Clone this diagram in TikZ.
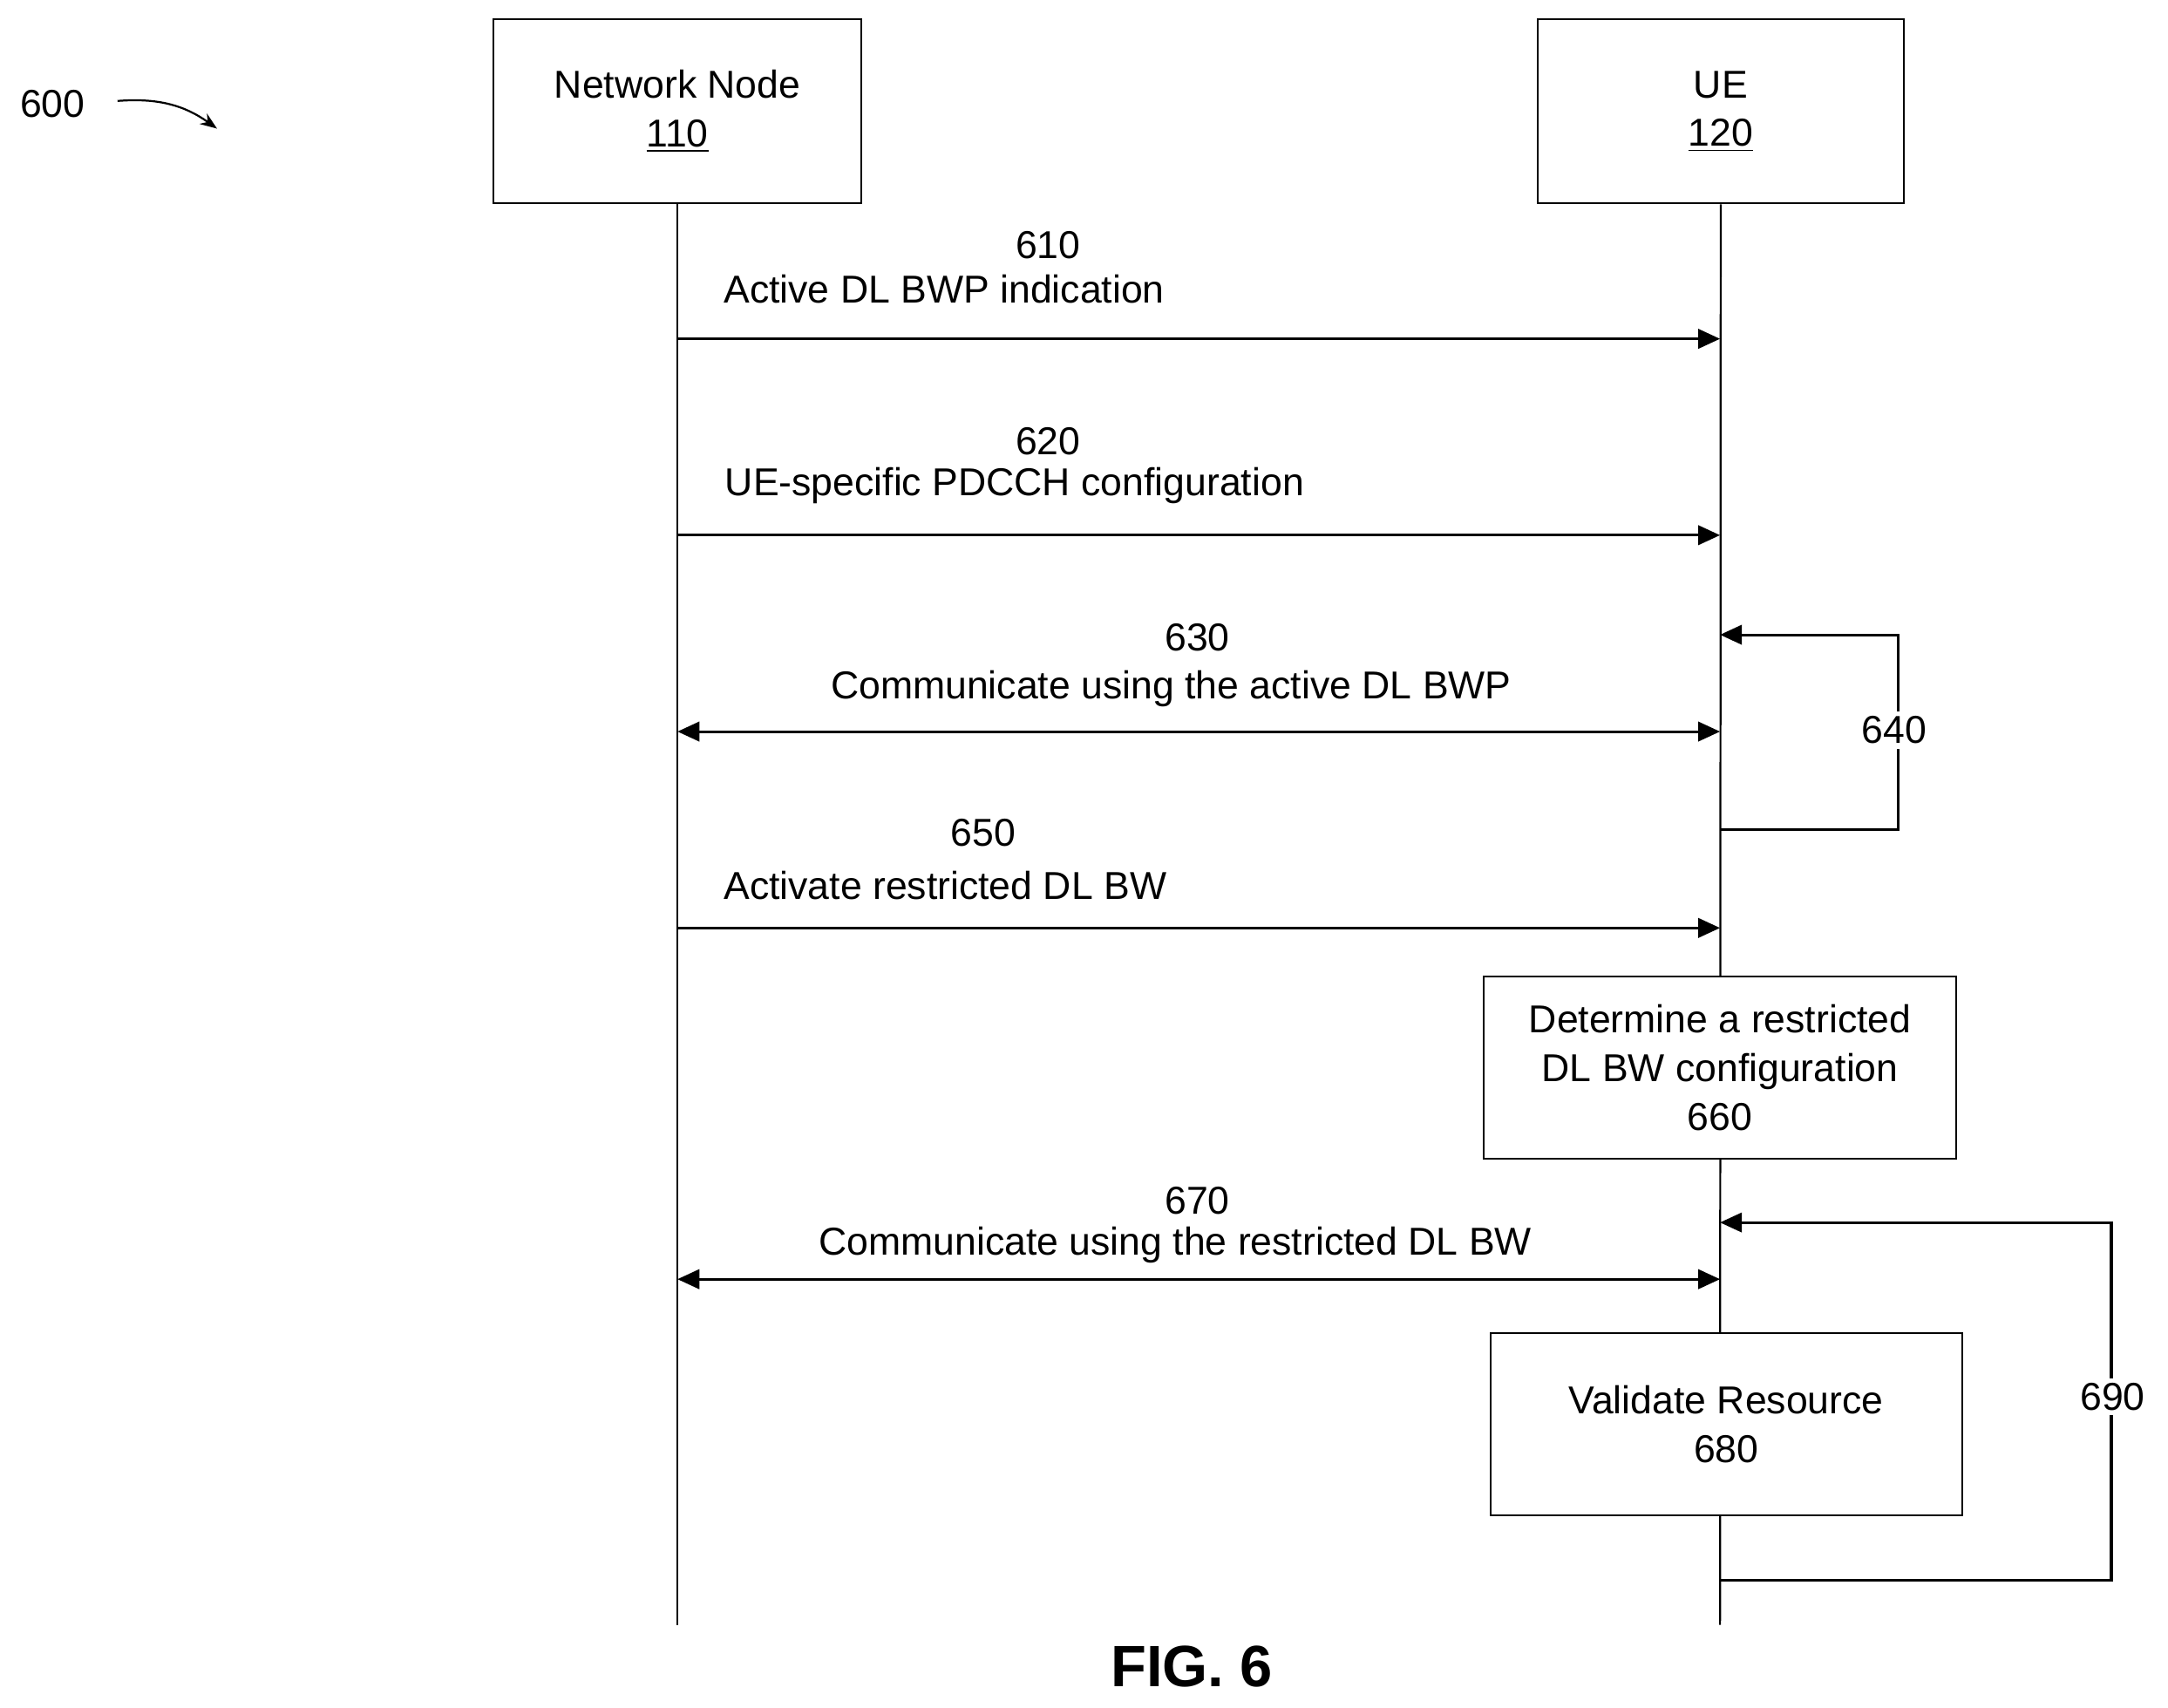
\documentclass[tikz,border=0pt]{standalone}
\usepackage{fontspec}
\setmainfont{Liberation Sans}
\usetikzlibrary{arrows.meta,positioning}
\begin{document}
\begin{tikzpicture}[x=0.02cm,y=-0.02cm,>={Triangle[length=9pt,width=8pt]},
  thick,font=\fontsize{16}{20}\selectfont,
  entity/.style={draw,minimum width=5.32cm,minimum height=2.66cm,align=center},
  step box/.style={draw,minimum height=2.64cm,align=center},
  msg/.style={->,line width=1.1pt},
  lbl/.style={inner sep=1pt,align=center}]
   \useasboundingbox (0,0) rectangle (1568,1235);
   % lifeline heads
   \node[entity] (nn) at (490,80.5) {Network Node\\\underline{110}};
   \node[entity,minimum width=5.3cm] (ue) at (1244.5,80.5) {UE\\\underline{120}};
   \coordinate (nnend) at (490,1175);
   \coordinate (ueend) at (1244,1175);
   \draw (nn.south) -- (nnend);
   \draw (ue.south) -- (ueend);
   % figure reference
   \node (ref) at (38,75) {600};
   \coordinate (refa) at (85,73);
   \coordinate (refb) at (157,93);
   \draw[->,>={Stealth[length=7pt]}] (refa) to[bend left=20] (refb);
   % messages
   \foreach \y/\nm in {245/m610,387/m620,529/m630,671/m650,925/m670}{
     \coordinate (\nm l) at (490,\y);
     \coordinate (\nm r) at (1244,\y);
   }
   \draw[msg] (m610l) -- (m610r);
   \node[lbl] (n610) at (758,177) {610};
   \node[lbl,anchor=west] (t610) at (521,209) {Active DL BWP indication};
   \draw[msg] (m620l) -- (m620r);
   \node[lbl] (n620) at (758,319) {620};
   \node[lbl,anchor=west] (t620) at (522,351) {UE-specific PDCCH configuration};
   \draw[msg,<->] (m630l) -- (m630r);
   \node[lbl] (n630) at (866,461) {630};
   \node[lbl] (t630) at (847,498) {Communicate using the active DL BWP};
   \draw[msg] (m650l) -- (m650r);
   \node[lbl] (n650) at (711,602) {650};
   \node[lbl,anchor=west] (t650) at (521,640) {Activate restricted DL BW};
   \draw[msg,<->] (m670l) -- (m670r);
   \node[lbl] (n670) at (866,868) {670};
   \node[lbl] (t670) at (850,900) {Communicate using the restricted DL BW};
   % UE steps
   \node[step box,fill=white,minimum width=6.84cm] (s660) at (1244,772) {Determine a restricted\\DL BW configuration\\660};
   \node[step box,fill=white,minimum width=6.82cm] (s680) at (1248.5,1030) {Validate Resource\\680};
   % loops
   \coordinate (l640a) at (1244,600);
   \coordinate (l640b) at (1244,459);
   \draw[msg] (l640a) -- (1373,600) -- (1373,459) -- (l640b);
   \node[fill=white,inner sep=2pt] (n640) at (1370,528) {640};
   \coordinate (l690a) at (1244,1143);
   \coordinate (l690b) at (1244,884);
   \draw[msg] (l690a) -- (1527,1143) -- (1527,884) -- (l690b);
   \node[fill=white,inner sep=2pt] (n690) at (1528,1010) {690};
   % caption
   \node[font=\fontsize{24}{28}\selectfont\bfseries] (fig) at (862,1205) {FIG. 6};
\end{tikzpicture}
\end{document}
